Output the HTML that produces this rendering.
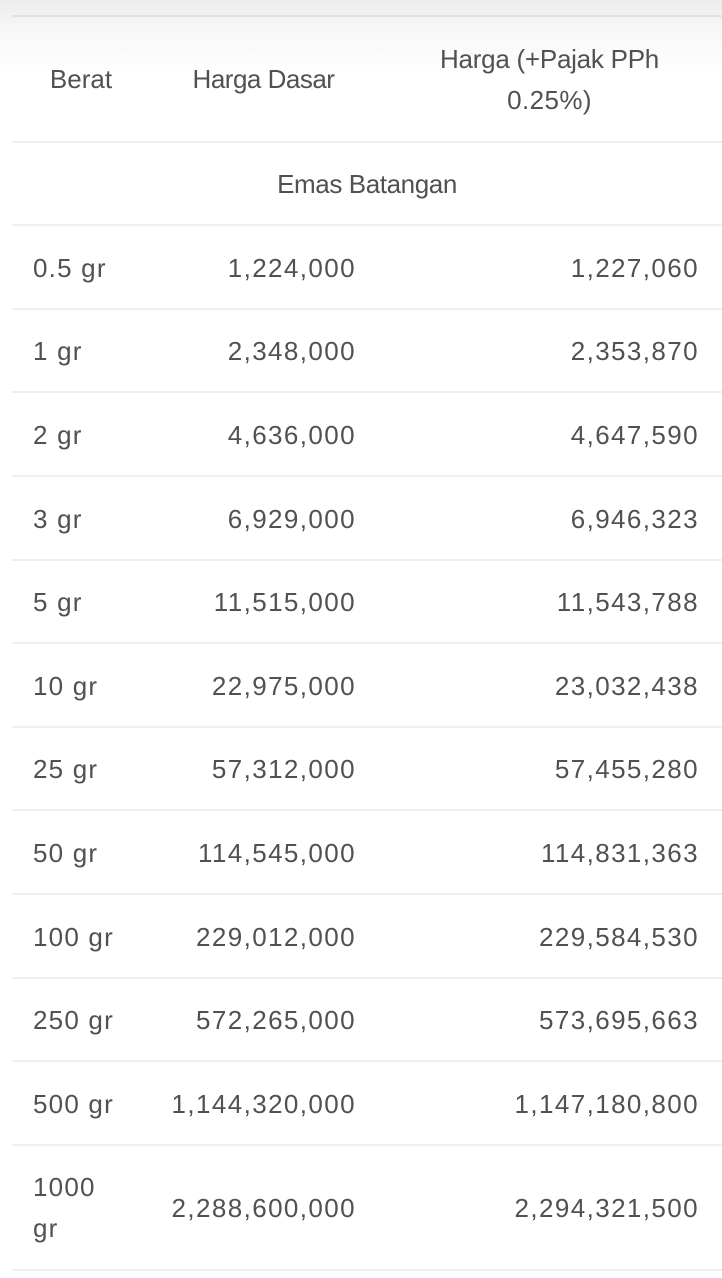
<!DOCTYPE html>
<html>
<head>
<meta charset="utf-8">
<style>
  html,body{margin:0;padding:0;}
  body{width:722px;height:1278px;position:relative;overflow:hidden;
    background:linear-gradient(to bottom,#ececec 0px,#f7f7f7 30px,#ffffff 75px,#ffffff 100%);
    font-family:"Liberation Sans",sans-serif;color:#515151;}
  .line{position:absolute;left:12px;right:0;height:2px;background:#efefef;}
  .line.top{background:#e2e2e2;}
  .row{position:absolute;left:12px;width:710px;display:flex;align-items:center;font-size:26px;padding-top:2px;box-sizing:border-box;}
  .c1{position:absolute;left:21px;letter-spacing:1.2px;}
  .c2{position:absolute;right:366px;letter-spacing:1.4px;}
  .c3{position:absolute;right:23px;letter-spacing:1.4px;}
  .h{position:absolute;text-align:center;font-size:26px;line-height:41px;}
</style>
</head>
<body>
<div class="line top" style="top:15px"></div>
<div class="h" style="left:12px;width:138px;top:59px;">Berat</div>
<div class="h" style="left:150px;width:227px;top:59px;letter-spacing:-0.5px;">Harga Dasar</div>
<div class="h" style="left:377px;width:345px;top:39px;"><span style="letter-spacing:-0.25px">Harga (+Pajak PPh</span><br><span style="letter-spacing:0.4px">0.25%)</span></div>

<div class="line" style="top:141px"></div>
<div class="h" style="left:12px;width:710px;top:164px;letter-spacing:-0.4px;">Emas Batangan</div>

<div class="line" style="top:224px"></div>
<div class="row" style="top:226px;height:82px"><span class="c1">0.5 gr</span><span class="c2">1,224,000</span><span class="c3">1,227,060</span></div>
<div class="line" style="top:308px"></div>
<div class="row" style="top:310px;height:81px"><span class="c1">1 gr</span><span class="c2">2,348,000</span><span class="c3">2,353,870</span></div>
<div class="line" style="top:391px"></div>
<div class="row" style="top:393px;height:82px"><span class="c1">2 gr</span><span class="c2">4,636,000</span><span class="c3">4,647,590</span></div>
<div class="line" style="top:475px"></div>
<div class="row" style="top:477px;height:82px"><span class="c1">3 gr</span><span class="c2">6,929,000</span><span class="c3">6,946,323</span></div>
<div class="line" style="top:559px"></div>
<div class="row" style="top:561px;height:81px"><span class="c1">5 gr</span><span class="c2">11,515,000</span><span class="c3">11,543,788</span></div>
<div class="line" style="top:642px"></div>
<div class="row" style="top:644px;height:82px"><span class="c1">10 gr</span><span class="c2">22,975,000</span><span class="c3">23,032,438</span></div>
<div class="line" style="top:726px"></div>
<div class="row" style="top:728px;height:81px"><span class="c1">25 gr</span><span class="c2">57,312,000</span><span class="c3">57,455,280</span></div>
<div class="line" style="top:809px"></div>
<div class="row" style="top:811px;height:82px"><span class="c1">50 gr</span><span class="c2">114,545,000</span><span class="c3">114,831,363</span></div>
<div class="line" style="top:893px"></div>
<div class="row" style="top:895px;height:82px"><span class="c1">100 gr</span><span class="c2">229,012,000</span><span class="c3">229,584,530</span></div>
<div class="line" style="top:977px"></div>
<div class="row" style="top:979px;height:81px"><span class="c1">250 gr</span><span class="c2">572,265,000</span><span class="c3">573,695,663</span></div>
<div class="line" style="top:1060px"></div>
<div class="row" style="top:1062px;height:82px"><span class="c1">500 gr</span><span class="c2">1,144,320,000</span><span class="c3">1,147,180,800</span></div>
<div class="line" style="top:1144px"></div>
<div class="row" style="top:1146px;height:123px;padding-top:1px"><span class="c1" style="line-height:41px">1000<br>gr</span><span class="c2">2,288,600,000</span><span class="c3">2,294,321,500</span></div>
<div class="line" style="top:1269px"></div>
</body>
</html>
